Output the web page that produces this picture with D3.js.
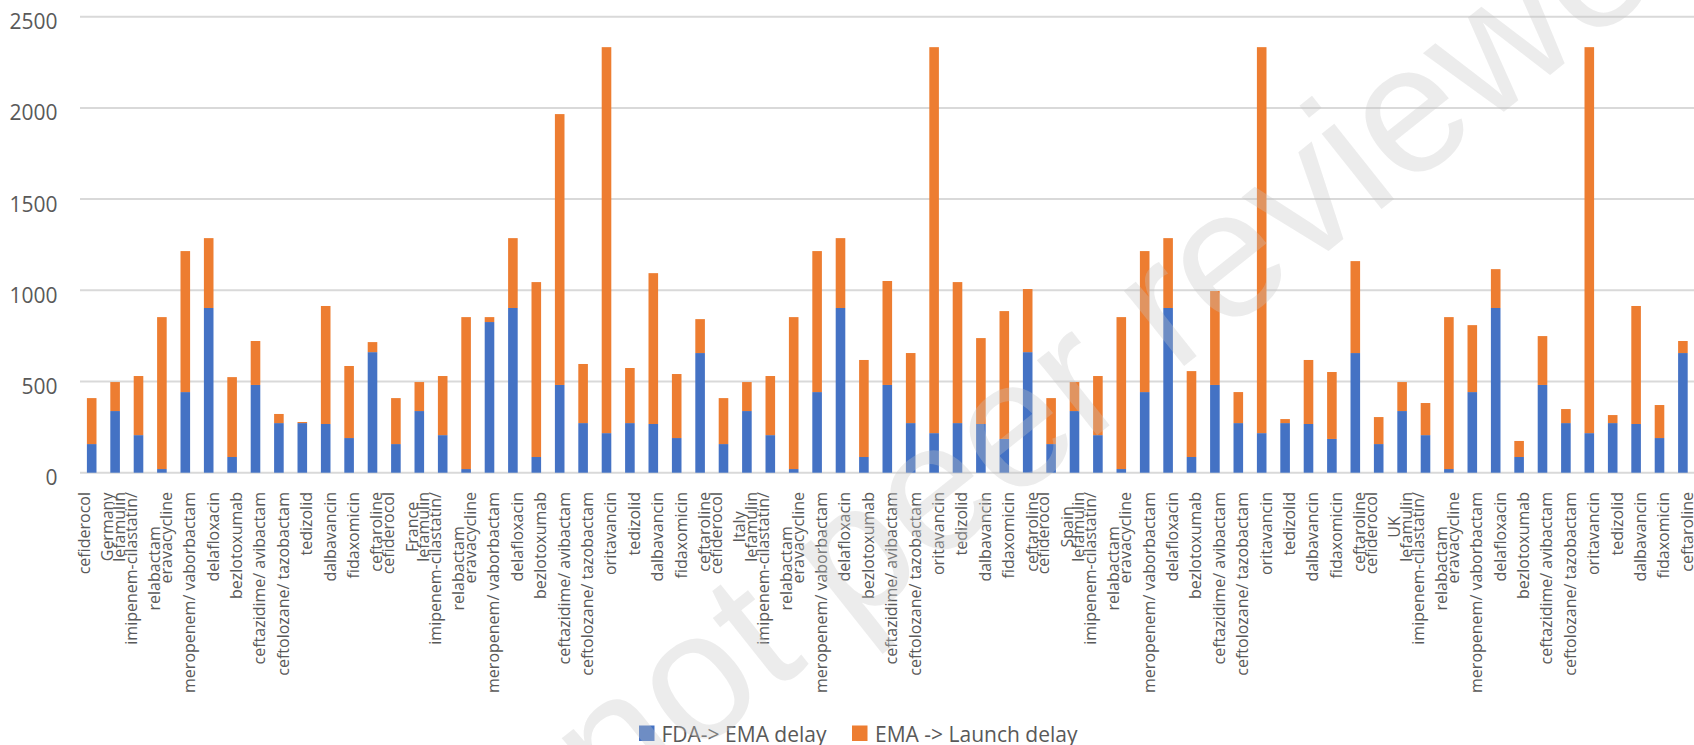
<!DOCTYPE html>
<html>
<head>
<meta charset="utf-8">
<script src="https://cdn.jsdelivr.net/npm/d3@7"></script>
<style>
  html, body { margin: 0; padding: 0; background: #ffffff; }
  svg { display: block; font-family: "Open Sans", sans-serif; }
</style>
</head>
<body>
<svg id="chart" width="1694" height="745"></svg>
<script>
// Tick labels along the category axis; "\n" separates the stacked label lines.
const tickLabels = [
  // Germany
  "cefiderocol", "Germany\nlefamulin", "imipenem-cilastatin/\n\nrelabactam", "\neravacycline",
  "\nmeropenem/ vaborbactam", "\ndelafloxacin", "\nbezlotoxumab", "\nceftazidime/ avibactam",
  "\nceftolozane/ tazobactam", "\ntedizolid", "\ndalbavancin", "\nfidaxomicin", "\nceftaroline",
  // France
  "cefiderocol", "France\nlefamulin", "imipenem-cilastatin/\n\nrelabactam", "\neravacycline",
  "\nmeropenem/ vaborbactam", "\ndelafloxacin", "\nbezlotoxumab", "\nceftazidime/ avibactam",
  "\nceftolozane/ tazobactam", "\noritavancin", "\ntedizolid", "\ndalbavancin", "\nfidaxomicin", "\nceftaroline",
  // Italy
  "cefiderocol", "Italy\nlefamulin", "imipenem-cilastatin/\n\nrelabactam", "\neravacycline",
  "\nmeropenem/ vaborbactam", "\ndelafloxacin", "\nbezlotoxumab", "\nceftazidime/ avibactam",
  "\nceftolozane/ tazobactam", "\noritavancin", "\ntedizolid", "\ndalbavancin", "\nfidaxomicin", "\nceftaroline",
  // Spain
  "cefiderocol", "Spain\nlefamulin", "imipenem-cilastatin/\n\nrelabactam", "\neravacycline",
  "\nmeropenem/ vaborbactam", "\ndelafloxacin", "\nbezlotoxumab", "\nceftazidime/ avibactam",
  "\nceftolozane/ tazobactam", "\noritavancin", "\ntedizolid", "\ndalbavancin", "\nfidaxomicin", "\nceftaroline",
  // UK
  "cefiderocol", "UK\nlefamulin", "imipenem-cilastatin/\n\nrelabactam", "\neravacycline",
  "\nmeropenem/ vaborbactam", "\ndelafloxacin", "\nbezlotoxumab", "\nceftazidime/ avibactam",
  "\nceftolozane/ tazobactam", "\noritavancin", "\ntedizolid", "\ndalbavancin", "\nfidaxomicin", "\nceftaroline"
];

// Days from FDA approval to EMA approval
const fdaEmaDelay = [
  157, 338, 206, 20, 442, 903, 86, 481, 272, 272, 267, 190, 661,
  157, 338, 206, 20, 826, 903, 86, 481, 272, 217, 272, 267, 190, 656,
  157, 338, 206, 20, 442, 903, 86, 481, 272, 217, 272, 267, 185, 661,
  157, 338, 206, 20, 442, 903, 86, 481, 272, 217, 272, 267, 185, 656,
  157, 338, 206, 20, 442, 903, 86, 481, 272, 217, 272, 267, 190, 656
];

// Days from EMA approval to national launch
const emaLaunchDelay = [
  252, 159, 324, 833, 773, 383, 438, 241, 50, 6, 647, 395, 55,
  252, 159, 324, 833, 27, 383, 959, 1485, 324, 2116, 302, 827, 351, 186,
  252, 159, 324, 833, 773, 383, 532, 570, 384, 2116, 773, 471, 701, 346,
  252, 159, 324, 833, 773, 383, 471, 515, 170, 2116, 22, 351, 367, 504,
  148, 159, 176, 833, 367, 213, 88, 268, 77, 2116, 44, 647, 181, 66
];

const yTicks = [0, 500, 1000, 1500, 2000, 2500];
const seriesNames = ["FDA-> EMA delay", "EMA -> Launch delay"];
const seriesColors = ["#4472C4", "#ED7D31"];
const watermarkText = "Preprint not peer reviewed";

const svg = d3.select("#chart");
const W = 1694, H = 745;
const plot = { left: 80, right: 80 + 69 * 23.4, top: 16.7, bottom: 472.7 };
const axisGray = "#595959";

const rows = tickLabels.map((label, i) => ({
  key: i, label: label, fda: fdaEmaDelay[i], ema: emaLaunchDelay[i]
}));

const x = d3.scaleBand()
  .domain(rows.map(d => d.key))
  .range([plot.left, plot.right])
  .paddingInner(0.59)
  .paddingOuter(0.295);

const y = d3.scaleLinear().domain([0, 2500]).range([plot.bottom, plot.top]);

// Horizontal gridlines
svg.append("g").selectAll("line")
  .data(yTicks)
  .join("line")
  .attr("x1", plot.left).attr("x2", W)
  .attr("y1", d => y(d)).attr("y2", d => y(d))
  .attr("stroke", "#d9d9d9").attr("stroke-width", 2);

// Value axis labels
svg.append("g").selectAll("text")
  .data(yTicks)
  .join("text")
  .attr("x", 57.5)
  .attr("y", d => y(d) + 12.5)
  .attr("text-anchor", "end")
  .attr("font-size", 21)
  .attr("fill", axisGray)
  .text(d => d);

// Stacked bars
const stack = d3.stack().keys(["fda", "ema"]);
const layers = stack(rows);
svg.append("g").selectAll("g")
  .data(layers)
  .join("g")
  .attr("fill", (d, i) => seriesColors[i])
  .selectAll("rect")
  .data(d => d)
  .join("rect")
  .attr("x", d => x(d.data.key))
  .attr("width", x.bandwidth())
  .attr("y", d => y(d[1]))
  .attr("height", d => y(d[0]) - y(d[1]));

// Category labels, rotated, stacked lines centred on the longest line
const labelTop = 492;
const lineStep = 11.5;
const firstLineCenter = -7.5;
const baselineShift = 5.8;
const labelGroups = svg.append("g")
  .attr("font-size", 16)
  .attr("fill", axisGray)
  .selectAll("g")
  .data(rows)
  .join("g")
  .attr("transform", d => `translate(${x(d.key) + x.bandwidth() / 2},${labelTop}) rotate(-90)`);

labelGroups.each(function (d) {
  const g = d3.select(this);
  const lines = d.label.split("\n");
  const texts = [];
  lines.forEach((ln, k) => {
    if (!ln) return;
    const t = g.append("text")
      .attr("text-anchor", "middle")
      .attr("y", firstLineCenter + lineStep * k + baselineShift)
      .text(ln);
    texts.push(t);
  });
  const maxLen = d3.max(texts, t => t.node().getComputedTextLength());
  texts.forEach(t => t.attr("x", -maxLen / 2));
});

// Legend
const legend = svg.append("g").attr("font-size", 21).attr("fill", axisGray);
const legendItems = [
  { name: seriesNames[0], color: seriesColors[0], sx: 639, tx: 661.5 },
  { name: seriesNames[1], color: seriesColors[1], sx: 852, tx: 875 }
];
legendItems.forEach(it => {
  legend.append("rect")
    .attr("x", it.sx).attr("y", 725.5)
    .attr("width", 15.5).attr("height", 15.5)
    .attr("fill", it.color);
  legend.append("text")
    .attr("x", it.tx).attr("y", 741.5)
    .text(it.name);
});

// Diagonal watermark laid over the chart
const wmAngle = -38.5;
const wm = svg.append("text")
  .attr("font-family", "'Liberation Sans', Arial, sans-serif")
  .attr("font-size", 182)
  .attr("fill", "#c5c5c5")
  .attr("fill-opacity", 0.33)
  .text(watermarkText);
// pin the baseline start of the fifth letter of "reviewed"
const anchorIdx = watermarkText.indexOf("reviewed") + 4;
const preLen = wm.node().getSubStringLength(0, anchorIdx);
const rad = wmAngle * Math.PI / 180;
const wx = 1403.7 - preLen * Math.cos(rad);
const wy = 191.3 - preLen * Math.sin(rad);
wm.attr("transform", `translate(${wx},${wy}) rotate(${wmAngle})`);
</script>
</body>
</html>
